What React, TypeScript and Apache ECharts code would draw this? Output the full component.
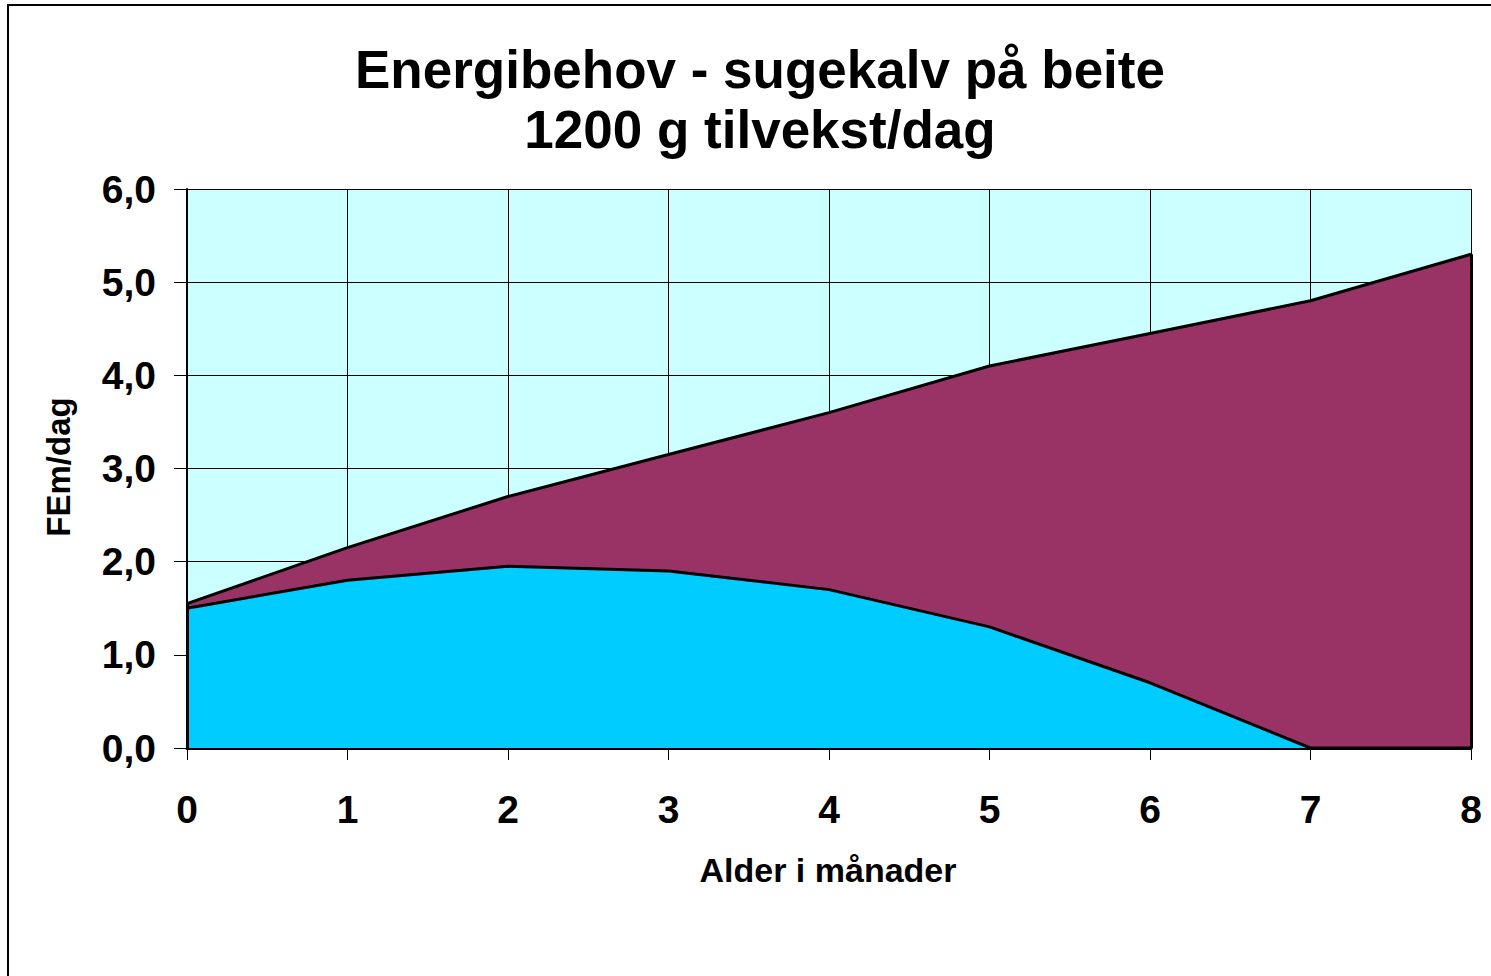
import React, { useEffect, useRef } from "react";
import * as echarts from "echarts";

const months = ["0", "1", "2", "3", "4", "5", "6", "7", "8"];
// Total energy requirement (FEm/dag)
const totalNeed = [1.55, 2.15, 2.7, 3.15, 3.6, 4.1, 4.45, 4.8, 5.3];
// Energy from milk (FEm/dag)
const milkPart = [1.5, 1.8, 1.95, 1.9, 1.7, 1.3, 0.7, 0, 0];
const yTicks = { min: 0, max: 6, interval: 1 };
const titleLines = ["Energibehov - sugekalv på beite", "1200 g tilvekst/dag"];
const xName = "Alder i månader";
const yName = "FEm/dag";

const FONT = "'Liberation Sans', Arial, Helvetica, sans-serif";

export default function App() {
  const ref = useRef<HTMLDivElement>(null);
  useEffect(() => {
    if (!ref.current) return;
    const chart = echarts.init(ref.current, null, { renderer: "svg" });
    const last = months.length - 1;
    chart.setOption({
      animation: false,
      backgroundColor: "#ffffff",
      grid: {
        left: 187,
        right: 20,
        top: 189,
        bottom: 228,
        show: true,
        backgroundColor: "#CCFFFF",
        borderWidth: 0,
      },
      xAxis: {
        type: "category",
        data: months,
        boundaryGap: false,
        axisLine: { show: true, lineStyle: { color: "#000", width: 3 } },
        axisTick: { show: true, length: 12, lineStyle: { color: "#000", width: 1 } },
        axisLabel: {
          margin: 42,
          fontSize: 39,
          fontWeight: "bold",
          fontFamily: FONT,
          color: "#000",
        },
        splitLine: { show: true, lineStyle: { color: "#000", width: 1 } },
      },
      yAxis: {
        type: "value",
        min: yTicks.min,
        max: yTicks.max,
        interval: yTicks.interval,
        axisLine: { show: true, lineStyle: { color: "#000", width: 2 } },
        axisTick: { show: true, length: 13, lineStyle: { color: "#000", width: 1 } },
        axisLabel: {
          margin: 31,
          fontSize: 39,
          fontWeight: "bold",
          fontFamily: FONT,
          color: "#000",
          formatter: (v: number) => v.toFixed(1).replace(".", ","),
        },
        splitLine: { show: true, lineStyle: { color: "#000", width: 1 } },
      },
      series: [
        {
          name: "Totalt",
          type: "line",
          data: totalNeed,
          symbol: "none",
          z: 2,
          lineStyle: { color: "#000", width: 3 },
          areaStyle: { color: "#993366", opacity: 1 },
          markLine: {
            silent: true,
            symbol: "none",
            label: { show: false },
            lineStyle: { color: "#000", width: 3, type: "solid" },
            data: [
              [
                { coord: [months[last], 0] },
                { coord: [months[last], totalNeed[last]] },
              ],
              [
                { coord: [months[0], 0] },
                { coord: [months[0], totalNeed[0]] },
              ],
            ],
          },
        },
        {
          name: "Melk",
          type: "line",
          data: milkPart,
          symbol: "none",
          z: 3,
          lineStyle: { color: "#000", width: 3 },
          areaStyle: { color: "#00CCFF", opacity: 1 },
        },
      ],
      graphic: [
        {
          type: "rect",
          silent: true,
          shape: { x: 8, y: 5, width: 1600, height: 1100 },
          style: { fill: "none", stroke: "#000", lineWidth: 2 },
          z: 100,
        },
        {
          type: "text",
          x: 760,
          y: 69,
          style: {
            text: titleLines[0],
            fontSize: 53,
            fontWeight: "bold",
            fontFamily: FONT,
            fill: "#000",
            textAlign: "center",
            textVerticalAlign: "middle",
          },
        },
        {
          type: "text",
          x: 760,
          y: 129,
          style: {
            text: titleLines[1],
            fontSize: 53,
            fontWeight: "bold",
            fontFamily: FONT,
            fill: "#000",
            textAlign: "center",
            textVerticalAlign: "middle",
          },
        },
        {
          type: "text",
          x: 828,
          y: 870,
          style: {
            text: xName,
            fontSize: 34,
            fontWeight: "bold",
            fontFamily: FONT,
            fill: "#000",
            textAlign: "center",
            textVerticalAlign: "middle",
          },
        },
        {
          type: "text",
          x: 58,
          y: 467,
          rotation: Math.PI / 2,
          style: {
            text: yName,
            fontSize: 33,
            fontWeight: "bold",
            fontFamily: FONT,
            fill: "#000",
            textAlign: "center",
            textVerticalAlign: "middle",
          },
        },
      ],
    });
    return () => chart.dispose();
  }, []);
  return (
    <div
      ref={ref}
      style={{ position: "absolute", left: 0, top: 0, width: 1491, height: 976 }}
    />
  );
}
